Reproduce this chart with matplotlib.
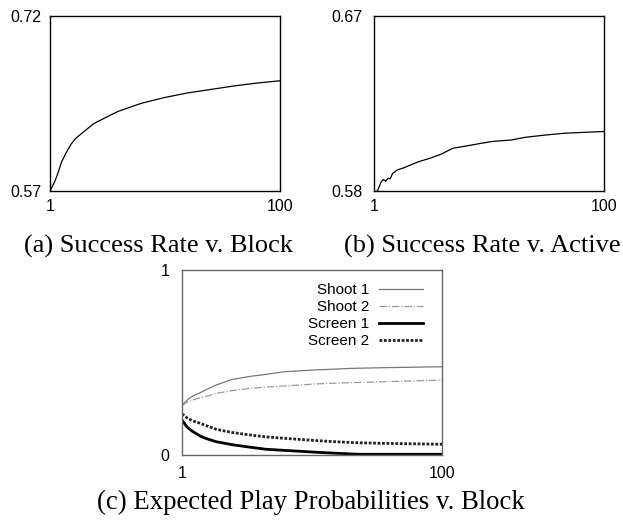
import matplotlib
matplotlib.use("Agg")
import matplotlib.pyplot as plt

# (a) success rate v. block
block_x = [1, 2, 3, 4, 5, 6, 8, 10, 12, 15, 20, 25, 30, 40, 50, 60, 70, 80, 90, 100]
block_rate = [0.570, 0.574, 0.578, 0.583, 0.589, 0.595, 0.603, 0.610, 0.615, 0.620,
              0.628, 0.633, 0.638, 0.645, 0.650, 0.654, 0.657, 0.660, 0.6625, 0.6645]

# (b) success rate v. active
active_x = [1, 2, 3, 4, 5, 6, 7, 8, 9, 11, 14, 17, 20, 25, 30, 35, 40, 47, 52, 60,
            66, 75, 83, 90, 100]
active_rate = [0.5775, 0.579, 0.5815, 0.5845, 0.586, 0.585, 0.5865, 0.5863, 0.589,
               0.5908, 0.592, 0.5935, 0.595, 0.5968, 0.599, 0.602, 0.603, 0.6045,
               0.6055, 0.6062, 0.6076, 0.6088, 0.6097, 0.6101, 0.6106]

# (c) expected play probabilities v. block
play_x = [1, 3, 5, 8, 10, 14, 20, 27, 33, 40, 52, 59, 65, 68, 78, 100]
shoot1 = [0.267, 0.298, 0.318, 0.337, 0.352, 0.378, 0.408, 0.425, 0.436, 0.450,
          0.460, 0.464, 0.468, 0.469, 0.472, 0.477]
shoot2 = [0.267, 0.286, 0.297, 0.309, 0.316, 0.333, 0.348, 0.360, 0.367, 0.373,
          0.384, 0.388, 0.391, 0.392, 0.396, 0.405]
screen1 = [0.189, 0.150, 0.128, 0.102, 0.090, 0.072, 0.056, 0.042, 0.031, 0.025,
           0.015, 0.010, 0.006, 0.004, 0.004, 0.004]
screen2 = [0.222, 0.200, 0.185, 0.171, 0.160, 0.139, 0.122, 0.108, 0.098, 0.090,
           0.078, 0.072, 0.068, 0.066, 0.063, 0.058]

captions = ["(a) Success Rate v. Block", "(b) Success Rate v. Active",
            "(c) Expected Play Probabilities v. Block"]

plt.rcParams['font.family'] = ['Liberation Sans', 'DejaVu Sans']
tick_fs = 11.5

fig = plt.figure(figsize=(6.23, 5.2), dpi=100)

def setup(ax, ylim, yticks, ypad, xpad=6, edge='black'):
    ax.set_xlim(1, 100)
    ax.set_ylim(*ylim)
    ax.set_xticks([1, 100])
    ax.set_xticklabels(['1', '100'])
    ax.set_yticks(yticks)
    ax.set_yticklabels([str(t) for t in yticks])
    ax.tick_params(length=0, labelsize=tick_fs)
    ax.tick_params(axis='y', pad=ypad)
    ax.tick_params(axis='x', pad=xpad)
    for s in ax.spines.values():
        s.set_linewidth(1.0)
        s.set_color(edge)

ax_a = fig.add_axes([0.0803, 0.6327, 0.3692, 0.3365])
ax_a.plot(block_x, block_rate, color='black', lw=0.9)
setup(ax_a, (0.57, 0.72), [0.57, 0.72], 6)

ax_b = fig.add_axes([0.6003, 0.6327, 0.3692, 0.3365])
ax_b.plot(active_x, active_rate, color='black', lw=0.9)
setup(ax_b, (0.58, 0.67), [0.58, 0.67], 8)

ax_c = fig.add_axes([0.2921, 0.125, 0.4173, 0.3558])
ax_c.plot(play_x, shoot1, color='#777777', lw=0.9, label='Shoot 1')
ax_c.plot(play_x, shoot2, color='#9a9a9a', lw=0.9, ls=(0, (6, 1.5, 1, 1.5)), label='Shoot 2')
ax_c.plot(play_x, screen1, color='black', lw=2.0, label='Screen 1')
ax_c.plot(play_x, screen2, color='#222222', lw=2.0, ls=(0, (1, 0.6)), label='Screen 2')
setup(ax_c, (0, 1), [0, 1], 9, xpad=8, edge='#666666')
ax_c.legend(loc='upper right', bbox_to_anchor=(0.927, 0.93), markerfirst=False,
            frameon=False, fontsize=11, labelspacing=0.2, handlelength=2.9,
            handletextpad=0.6, borderpad=0, borderaxespad=0)

fig.text(0.254, 1 - 246 / 520, captions[0], ha='center', va='center',
         family='Liberation Serif', fontsize=19)
fig.text(0.774, 1 - 246 / 520, captions[1], ha='center', va='center',
         family='Liberation Serif', fontsize=19)
fig.text(0.499, 1 - 502 / 520, captions[2], ha='center', va='center',
         family='Liberation Serif', fontsize=19.3)

fig.savefig('out.png', dpi=100)
